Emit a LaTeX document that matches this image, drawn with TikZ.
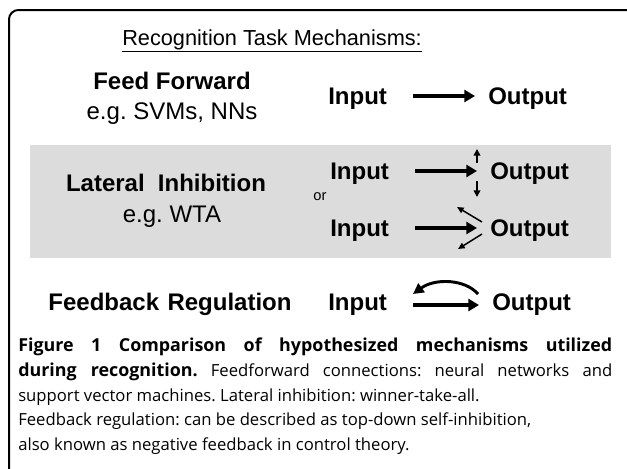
\documentclass[tikz,border=0pt]{standalone}
\usepackage{fontspec}
\setmainfont{Liberation Sans}
\newfontfamily\capfont{Open Sans}
\usetikzlibrary{arrows.meta}
\definecolor{panel}{HTML}{DCDCDC}
\frenchspacing
\tikzset{
  io/.style={inner sep=0pt, text height=12.9pt, text depth=0pt, font=\fontsize{18}{20}\selectfont\bfseries},
  head/.style={inner sep=0pt, text height=12.9pt, text depth=0pt, font=\fontsize{18}{20}\selectfont\bfseries},
  sub/.style={inner sep=0pt, text height=12.9pt, text depth=0pt, font=\fontsize{18}{20}\selectfont},
  bigarrow/.style={line width=2.6pt, -{Triangle[length=8pt,width=9pt]}, shorten <=19.5pt, shorten >=9.75pt},
  smallarrow/.style={line width=1.6pt, -{Triangle[length=5pt,width=5pt]}},
  thinarrow/.style={line width=1.1pt, -{Triangle[length=5pt,width=4.5pt]}},
}
\begin{document}
\begin{tikzpicture}[x=0.75pt,y=-0.75pt]
\useasboundingbox (0,0) rectangle (627,468);
% frame
\draw[line width=1.5pt, rounded corners=7pt] (9,480) -- (9,10) -- (640,10);
% gray panel
\fill[panel] (30,145) rectangle (611,258);
% title
\node[inner sep=0pt, anchor=base west, font=\fontsize{16.3}{20}\selectfont] (title) at (122,45) {\underline{Recognition Task Mechanisms:}};
% feed forward
\node[head] (ff) at (172,81) {Feed Forward};
\node[sub] (ffeg) at (172,111) {e.g. SVMs, NNs};
\node[io, anchor=west] (in1) at (328,96) {Input};
\node[io, anchor=west] (out1) at (488,96) {Output};
\draw[bigarrow] (in1.east) -- (out1.west);
% lateral inhibition
\node[head] (li) at (166,183) {Lateral\hspace{0.55em}Inhibition};
\node[sub] (lieg) at (172,214) {e.g. WTA};
\node[io, anchor=west] (in2) at (330,171) {Input};
\node[io, anchor=west] (out2) at (490,171) {Output};
\draw[bigarrow] (in2.east) -- (out2.west);
\coordinate (u1) at (477,163);
\coordinate (u2) at (477,149);
\coordinate (d1) at (477,181);
\coordinate (d2) at (477,197);
\draw[smallarrow] (u1) -- (u2);
\draw[smallarrow] (d1) -- (d2);
\node[inner sep=0pt, font=\fontsize{11}{12}\selectfont] (or) at (320,197) {or};
\node[io, anchor=west] (in3) at (330,228) {Input};
\node[io, anchor=west] (out3) at (490,228) {Output};
\draw[bigarrow] (in3.east) -- (out3.west);
\coordinate (a1) at (482,222);
\coordinate (a2) at (457,207);
\coordinate (b1) at (482,234);
\coordinate (b2) at (458,249);
\draw[thinarrow] (a1) -- (a2);
\draw[thinarrow] (b1) -- (b2);
% feedback regulation
\node[head] (fb) at (170,302) {Feedback\hspace{0.35em}Regulation};
\node[io, anchor=west] (in4) at (328,302) {Input};
\node[io, anchor=west] (out4) at (492,302) {Output};
\draw[bigarrow] ([yshift=-2.25pt]in4.east) -- ([yshift=-2.25pt]out4.west);
\coordinate (c1) at (478,294);
\coordinate (c2) at (413,294);
\draw[line width=2.2pt, -{Triangle[length=8pt,width=8pt]}] (c1) .. controls (465,279) and (435,278) .. (c2);
% caption
\node[anchor=north west, inner sep=0pt, text width=445.5pt, align=justify,
      font=\capfont\fontsize{12.5}{18.4}\selectfont] (cap) at (18,338)
{{\fontsize{13.4}{18.4}\selectfont\bfseries Figure 1 Comparison of hypothesized mechanisms utilized\linebreak during recognition.} Feedforward connections: neural networks and\linebreak support vector machines. Lateral inhibition: winner-take-all.\newline Feedback regulation: can be described as top-down self-inhibition,\newline also known as negative feedback in control theory.};
\end{tikzpicture}
\end{document}
